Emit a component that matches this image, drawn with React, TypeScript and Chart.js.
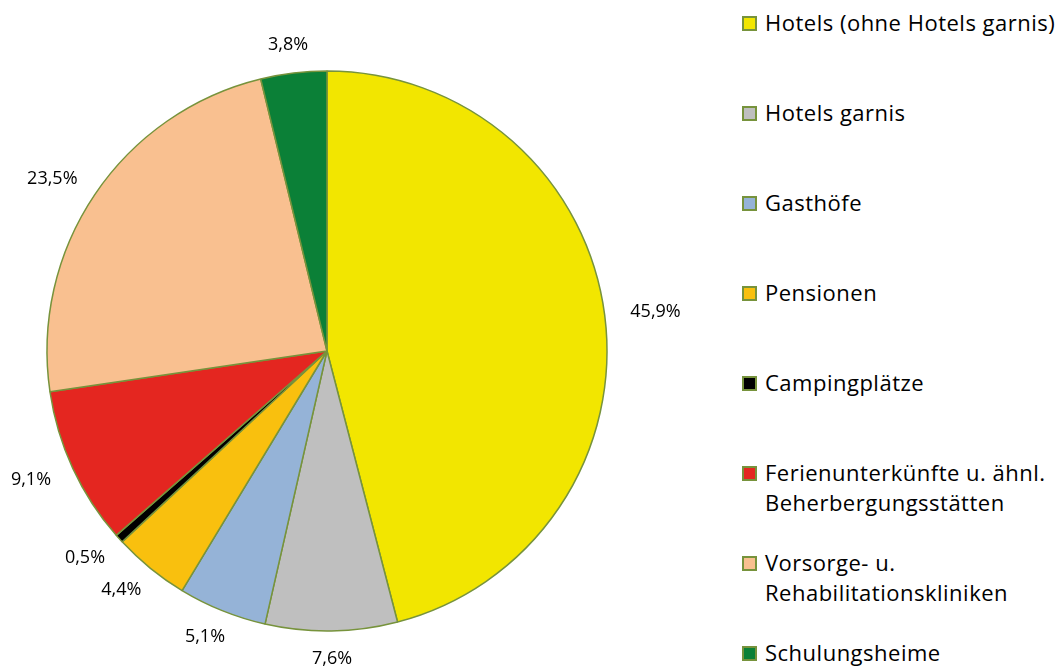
import React, { useEffect, useRef } from "react";
import { Chart, registerables } from "chart.js";

Chart.register(...registerables);

const categories: string[][] = [
  ["Hotels (ohne Hotels garnis)"],
  ["Hotels garnis"],
  ["Gasthöfe"],
  ["Pensionen"],
  ["Campingplätze"],
  ["Ferienunterkünfte u. ähnl.", "Beherbergungsstätten"],
  ["Vorsorge- u.", "Rehabilitationskliniken"],
  ["Schulungsheime"],
];
const values: number[] = [45.9, 7.6, 5.1, 4.4, 0.5, 9.1, 23.5, 3.8];
const colors: string[] = [
  "#F2E600",
  "#BFBFBF",
  "#95B3D7",
  "#F9C00E",
  "#000000",
  "#E42620",
  "#F9C090",
  "#0B8037",
];
const borderColor = "#77933C";
const FONT = "'Open Sans', Lato, sans-serif";

const labelPlugin = {
  id: "outsideLabels",
  afterDatasetsDraw(chart: any) {
    const ctx = chart.ctx;
    const meta = chart.getDatasetMeta(0);
    ctx.save();
    ctx.font = `18px ${FONT}`;
    ctx.fillStyle = "#000";
    ctx.textAlign = "center";
    ctx.textBaseline = "middle";
    meta.data.forEach((arc: any, i: number) => {
      const { x, y, startAngle, endAngle, outerRadius } = arc.getProps(
        ["x", "y", "startAngle", "endAngle", "outerRadius"],
        true
      );
      const text = values[i].toFixed(1).replace(".", ",") + "%";
      const w = ctx.measureText(text).width;
      const a = (startAngle + endAngle) / 2;
      const dx = Math.cos(a);
      const dy = Math.sin(a);
      const lx = x + dx * (outerRadius + w / 2 + 26);
      let ly = y + dy * (outerRadius + 28);
      ly = Math.min(Math.max(ly, 12), chart.height - 10);
      ctx.fillText(text, lx, ly);
    });
    ctx.restore();
  },
};

export default function App() {
  const ref = useRef<HTMLCanvasElement | null>(null);
  useEffect(() => {
    if (!ref.current) return;
    const chart = new Chart(ref.current, {
      type: "pie",
      data: {
        labels: categories.map((c) => c.join(" ")),
        datasets: [
          {
            data: values,
            backgroundColor: colors,
            borderColor: borderColor,
            borderWidth: 1.5,
          },
        ],
      },
      options: {
        animation: false,
        responsive: false,
        radius: 280,
        layout: { padding: { top: 32, right: 66 } },
        plugins: {
          legend: { display: false },
          tooltip: { enabled: false },
        },
      } as any,
      plugins: [labelPlugin],
    });
    return () => chart.destroy();
  }, []);

  return (
    <div
      style={{
        position: "absolute",
        left: 0,
        top: 0,
        width: 1064,
        height: 670,
        background: "#fff",
        overflow: "hidden",
      }}
    >
      <canvas
        ref={ref}
        width={720}
        height={670}
        style={{ position: "absolute", left: 0, top: 0 }}
      />
      <div
        style={{
          position: "absolute",
          left: 742,
          top: 8,
          fontFamily: FONT,
          fontSize: 22,
          letterSpacing: "0.5px",
          color: "#000",
          whiteSpace: "nowrap",
        }}
      >
        {categories.map((c, i) => (
          <div
            key={i}
            style={{ height: 90, display: "flex", alignItems: "flex-start" }}
          >
            <div
              style={{
                width: 11,
                height: 11,
                marginTop: 8,
                marginRight: 8,
                background: colors[i],
                border: `2px solid ${borderColor}`,
                flex: "none",
              }}
            />
            <div style={{ lineHeight: "29.5px" }}>
              {c.map((line, j) => (
                <div key={j}>{line}</div>
              ))}
            </div>
          </div>
        ))}
      </div>
    </div>
  );
}
